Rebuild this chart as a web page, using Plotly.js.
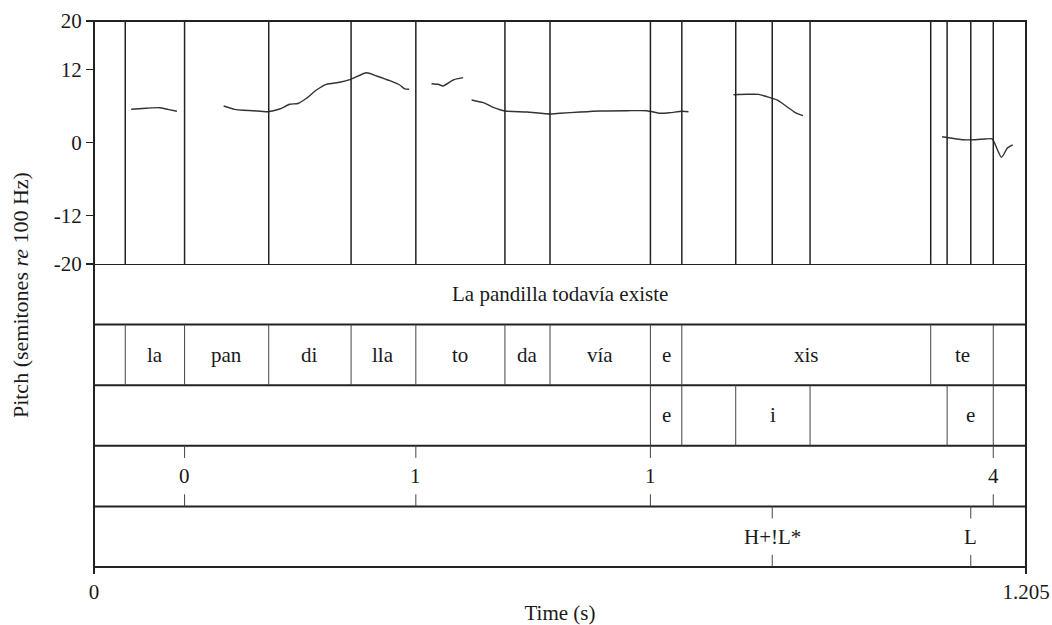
<!DOCTYPE html>
<html>
<head>
<meta charset="utf-8">
<script src="https://cdn.plot.ly/plotly-3.0.1.min.js"></script>
<style>
  html, body { margin: 0; padding: 0; background: #ffffff; }
  #chart { width: 1052px; height: 625px; }
</style>
</head>
<body>
<div id="chart"></div>
<script>
// Pitch contour (semitones re 100 Hz); null separates voiced stretches
const pitchTime = [
  0.0481, 0.0676, 0.0848, 0.0955, 0.1072, null,
  0.1676, 0.1818, 0.1926, 0.2055, 0.2250, 0.2401, 0.2530, 0.2638, 0.2747, 0.2876,
  0.3005, 0.3178, 0.3320, 0.3523, 0.3653, 0.3825, 0.3954, 0.4019, 0.4075, null,
  0.4364, 0.4450, 0.4515, 0.4644, 0.4773, null,
  0.4882, 0.5032, 0.5162, 0.5313, 0.5594, 0.5896, 0.6025, 0.6284, 0.6543, 0.6888,
  0.7147, 0.7319, 0.7449, 0.7600, 0.7686, null,
  0.8268, 0.8442, 0.8592, 0.8700, 0.8830, 0.8959, 0.9067, 0.9166, null,
  1.0965, 1.1095, 1.1224, 1.1397, 1.1526, 1.1612, 1.1733, 1.1807, 1.1879
];
const pitchSt = [
  5.46, 5.63, 5.73, 5.46, 5.14, null,
  6.01, 5.46, 5.30, 5.23, 5.07, 5.51, 6.29, 6.42, 7.28, 8.64,
  9.58, 9.91, 10.40, 11.49, 10.95, 10.17, 9.46, 8.81, 8.76, null,
  9.68, 9.58, 9.30, 10.29, 10.67, null,
  7.00, 6.55, 5.79, 5.19, 5.02, 4.69, 4.81, 5.02, 5.19, 5.23,
  5.23, 4.81, 4.91, 5.14, 5.07, null,
  7.87, 7.93, 7.93, 7.54, 7.00, 5.89, 4.91, 4.41, null,
  0.95, 0.69, 0.46, 0.46, 0.58, 0.58, -2.44, -0.96, -0.41
];

// Time span and pitch axis
const tStart = 0;
const tEnd = 1.205;
const pitchTicks = [20, 12, 0, -12, -20];

// Tier 1: utterance
const sentenceLabel = "La pandilla todavía existe";

// Tier 2: syllables (interval boundaries, labels of the intervals between them)
const sylTimes = [0.0404, 0.1171, 0.2259, 0.3324, 0.4161, 0.5313, 0.5896, 0.7194, 0.7600, 1.0818, 1.1627];
const sylLabels = ["", "la", "pan", "di", "lla", "to", "da", "vía", "e", "xis", "te", ""];

// Tier 3: vowels
const vowelTimes = [0.7194, 0.7600, 0.8297, 0.9258, 1.1030, 1.1627];
const vowelLabels = ["", "e", "", "i", "", "e", ""];

// Tier 4: break indices (point tier)
const breakTimes = [0.1171, 0.4161, 0.7194, 1.1627];
const breakLabels = ["0", "1", "1", "4"];

// Tier 5: tones (point tier)
const toneTimes = [0.8769, 1.1336];
const toneLabels = ["H+!L*", "L"];

const FONT = "Liberation Serif, Times New Roman, serif";
const INK = "#1a1a1a";
const FS = 21;
const nTiers = 5;

const shapes = [];
const annotations = [];

// Vertical boundary lines through the pitch panel (all tiers' boundaries and points)
const allTimes = Array.from(new Set([].concat(sylTimes, vowelTimes, breakTimes, toneTimes))).sort((a, b) => a - b);
allTimes.forEach(t => shapes.push({
  type: "line", xref: "x", yref: "y", x0: t, x1: t, y0: -20, y1: 20,
  line: { color: "#222", width: 1.5 }
}));

// Horizontal separators between tiers (y2 units: one tier per unit, top tier = 4..5)
for (let k = 1; k <= nTiers; k++) {
  shapes.push({
    type: "line", xref: "paper", yref: "y2", x0: 0, x1: 1, y0: k, y1: k,
    line: { color: "#222", width: 2 }
  });
}

// Outer frame
shapes.push({
  type: "rect", xref: "paper", yref: "paper", x0: 0, x1: 1, y0: 0, y1: 1,
  line: { color: "#222", width: 2 }
});

function intervalTier(times, labels, row) {
  const edges = [tStart].concat(times, [tEnd]);
  times.forEach(t => shapes.push({
    type: "line", xref: "x", yref: "y2", x0: t, x1: t, y0: row, y1: row + 1,
    line: { color: "#444", width: 1 }
  }));
  labels.forEach((lab, i) => {
    if (!lab) return;
    annotations.push({
      xref: "x", yref: "y2", x: (edges[i] + edges[i + 1]) / 2, y: row + 0.5,
      text: lab, showarrow: false, xanchor: "center", yanchor: "middle",
      font: { family: FONT, size: FS, color: INK }
    });
  });
}

function pointTier(times, labels, row) {
  times.forEach((t, i) => {
    shapes.push({
      type: "line", xref: "x", yref: "y2", x0: t, x1: t, y0: row + 1, y1: row + 0.8,
      line: { color: "#444", width: 1 }
    });
    shapes.push({
      type: "line", xref: "x", yref: "y2", x0: t, x1: t, y0: row, y1: row + 0.2,
      line: { color: "#444", width: 1 }
    });
    annotations.push({
      xref: "x", yref: "y2", x: t, y: row + 0.5,
      text: labels[i], showarrow: false, xanchor: "center", yanchor: "middle",
      font: { family: FONT, size: FS, color: INK }
    });
  });
}

// Utterance tier
annotations.push({
  xref: "x", yref: "y2", x: (tStart + tEnd) / 2, y: 4.5,
  text: sentenceLabel, showarrow: false, xanchor: "center", yanchor: "middle",
  font: { family: FONT, size: FS, color: INK }
});
intervalTier(sylTimes, sylLabels, 3);
intervalTier(vowelTimes, vowelLabels, 2);
pointTier(breakTimes, breakLabels, 1);
pointTier(toneTimes, toneLabels, 0);

// Vertical axis title spanning the whole figure
annotations.push({
  xref: "paper", yref: "paper", x: 0, y: 0.498, xshift: -74,
  text: "Pitch (semitones <i>re</i> 100 Hz)", textangle: -90, showarrow: false,
  xanchor: "center", yanchor: "middle",
  font: { family: FONT, size: 22, color: INK }
});

const trace = {
  type: "scatter", mode: "lines", x: pitchTime, y: pitchSt,
  xaxis: "x", yaxis: "y", connectgaps: false,
  line: { color: "#333", width: 1.4, shape: "spline", smoothing: 0.6 },
  hoverinfo: "skip", showlegend: false
};

const layout = {
  width: 1052, height: 625,
  margin: { l: 94, r: 26, t: 21, b: 58 },
  paper_bgcolor: "#ffffff", plot_bgcolor: "#ffffff",
  showlegend: false,
  font: { family: FONT, size: FS, color: INK },
  xaxis: {
    range: [tStart, tEnd], anchor: "y2",
    showgrid: false, zeroline: false, showline: false,
    tickvals: [tStart, tEnd], ticktext: ["0", "1.205"],
    ticks: "outside", ticklen: 6, tickwidth: 1.5, tickcolor: "#222",
    tickfont: { family: FONT, size: FS, color: INK },
    title: { text: "Time (s)", font: { family: FONT, size: FS, color: INK }, standoff: 4 }
  },
  yaxis: {
    domain: [0.555, 1], range: [-20, 20],
    showgrid: false, zeroline: false, showline: false,
    tickvals: pitchTicks, ticktext: pitchTicks.map(String),
    ticks: "outside", ticklen: 7, tickwidth: 1.5, tickcolor: "#222",
    tickfont: { family: FONT, size: FS, color: INK }
  },
  yaxis2: {
    domain: [0, 0.555], range: [0, nTiers], visible: false, fixedrange: true
  },
  shapes: shapes,
  annotations: annotations
};

Plotly.newPlot("chart", [trace], layout, { displayModeBar: false, staticPlot: true });
</script>
</body>
</html>
